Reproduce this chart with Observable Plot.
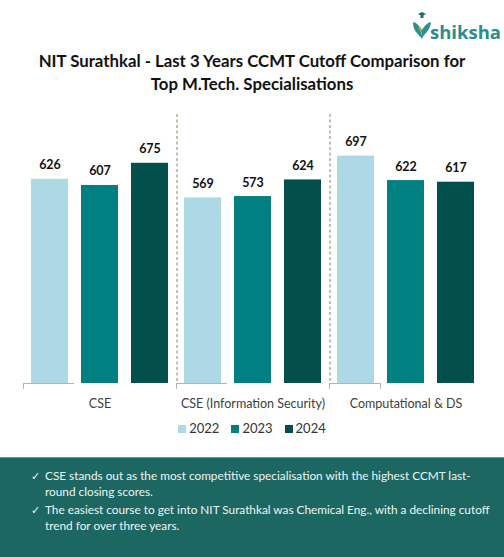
<!DOCTYPE html>
<html>
<head>
<meta charset="utf-8">
<script src="https://cdn.jsdelivr.net/npm/d3@7"></script>
<script src="https://cdn.jsdelivr.net/npm/@observablehq/plot@0.6"></script>
<style>
  html, body { margin: 0; padding: 0; background: #fff; }
  #page { position: relative; width: 504px; height: 557px; overflow: hidden; font-family: Lato, "Open Sans", sans-serif; background:#fff; }
  #title { position: absolute; left: 0; top: 49px; width: 504px; text-align: center; font-weight: 700; font-size: 16.8px; line-height: 23px; color: #111; }
  #chart { position: absolute; left: 0; top: 114px; }
  #legend { position: absolute; left: 0; top: 420px; width: 504px; text-align: center; font-size: 13px; color: #333; }
  #legend span.item { display: inline-block; margin: 0 6px; }
  #legend span.sw { display: inline-block; width: 8px; height: 8px; margin-right: 3px; vertical-align: 0px; }
  #box { position: absolute; left: 0; top: 457px; width: 504px; height: 100px; background: #1d6762; border-top: 1px solid #5f9592; box-sizing: border-box; color: #eef4f3; font-size: 11.8px; }
  #box .b { position: absolute; left: 45px; line-height: 16px; white-space: nowrap; }
  #box .b::before { content: "\2713"; position: absolute; left: -14px; top: 0; font-size: 11px; }
  #logo { position: absolute; left: 410px; top: 10px; }
  #logotext { position: absolute; left: 430px; top: 19px; font-size: 18.5px; font-weight: 700; color: #2a8d8c; font-family: "Open Sans", Lato, sans-serif; }
</style>
</head>
<body>
<div id="page">
  <svg id="logo" width="22" height="32" viewBox="0 0 22 32">
    <polygon points="8,4 12,2 16,4 12,6" fill="#1d6f6e"/>
    <rect x="10.5" y="5" width="3" height="3" fill="#1d6f6e"/>
    <path d="M3,12 C3,22 9,24 12,29 C13,24 20,22 21,12 C17,13 14,16 12,20 C10,16 7,13 3,12 Z" fill="#2a9190"/>
    <path d="M8,15 C9,19 11,22 12,26 C12,22 11,18 8,15 Z" fill="#f2b134"/>
  </svg>
  <div id="logotext">shiksha</div>
  <div id="title">NIT Surathkal - Last 3 Years CCMT Cutoff Comparison for<br>Top M.Tech. Specialisations</div>
  <div id="chart"></div>
  <div id="legend"></div>
  <div id="box">
    <div class="b" style="top:10px">CSE stands out as the most competitive specialisation with the highest CCMT last-<br>round closing scores.</div>
    <div class="b" style="top:44px">The easiest course to get into NIT Surathkal was Chemical Eng., with a declining cutoff<br>trend for over three years.</div>
  </div>
</div>
<script>
const categories = ["CSE", "CSE (Information Security)", "Computational & DS"];
const years = ["2022", "2023", "2024"];
const cutoff2022 = [626, 569, 697];
const cutoff2023 = [607, 573, 622];
const cutoff2024 = [675, 624, 617];
const colors = ["#add8e6", "#008080", "#034f4c"];

const series = [cutoff2022, cutoff2023, cutoff2024];
const data = [];
categories.forEach((c, i) => years.forEach((y, j) => data.push({category: c, year: y, value: series[j][i]})));

// Decoration drawn once per facet: baseline, boundary ticks, dashed separators.
let facetCall = 0;
function separators(index, scales, values, dimensions) {
  const {marginLeft, marginRight, width} = dimensions;
  const k = facetCall++ % categories.length;
  const bw = (width - marginLeft - marginRight) / categories.length;
  const L = marginLeft, R = marginLeft + bw;
  const base = scales.y(0);
  const g = d3.create("svg:g");
  g.append("line").attr("x1", L).attr("x2", R)
    .attr("y1", base + 0.5).attr("y2", base + 0.5).attr("stroke", "#b3b3b3").attr("stroke-width", 1);
  const ticks = k === categories.length - 1 ? [L, R] : [L];
  ticks.forEach((b) => {
    g.append("line").attr("x1", b + 0.5).attr("x2", b + 0.5).attr("y1", base).attr("y2", base + 6)
      .attr("stroke", "#b3b3b3").attr("stroke-width", 1);
  });
  if (k > 0) {
    g.append("line").attr("x1", L + 1).attr("x2", L + 1).attr("y1", 0).attr("y2", base)
      .attr("stroke", "#8c8060").attr("stroke-width", 1).attr("stroke-dasharray", "3,2.5");
  }
  return g.node();
}

const chart = Plot.plot({
  width: 504,
  height: 301,
  marginLeft: 22,
  marginRight: 22,
  marginTop: 8,
  marginBottom: 32,
  style: {fontFamily: "Lato, 'Open Sans', sans-serif", background: "transparent"},
  fx: {domain: categories, padding: 0, label: null},
  x: {domain: years, paddingInner: 0.26, paddingOuter: 0.16, axis: null},
  y: {domain: [0, 800], axis: null},
  color: {domain: years, range: colors},
  marks: [
    Plot.axisFx({anchor: "bottom", tickSize: 0, tickPadding: 16, fontSize: 12.5, fill: "#404040", label: null}),
    Plot.barY(data, {fx: "category", x: "year", y: "value", fill: "year"}),
    Plot.text(data, {fx: "category", x: "year", y: "value", text: d => String(d.value), dy: -14, fontSize: 12.5, fontWeight: "bold", fill: "#111"}),
    separators
  ]
});
document.getElementById("chart").appendChild(chart);

const legend = document.getElementById("legend");
years.forEach((y, i) => {
  const item = document.createElement("span");
  item.className = "item";
  item.innerHTML = `<span class="sw" style="background:${colors[i]}"></span>${y}`;
  legend.appendChild(item);
});
</script>
</body>
</html>
